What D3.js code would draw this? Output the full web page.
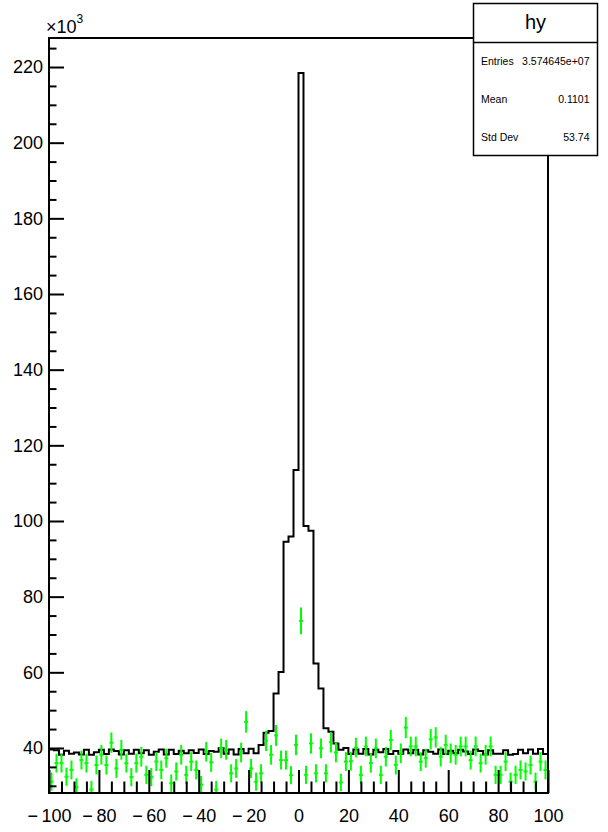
<!DOCTYPE html>
<html><head><meta charset="utf-8">
<script src="https://cdn.jsdelivr.net/npm/d3@7"></script>
<style>
body{margin:0;background:#fff;}
text{font-family:"Liberation Sans",Arial,Helvetica,sans-serif;fill:#000;}
</style>
</head><body>
<svg id="c" width="608" height="832"></svg>
<script>
// ---- data (values in units of 10^3) ----
const xMin = -100, xMax = 100, nBins = 100;
const blackCounts = [
 39.6, 39.4, 38.2, 39.3, 38.5, 38.8, 38.3, 39.5, 38.2, 38.9,
 39.5, 38.4, 39.6, 39.2, 38.3, 39.4, 38.5, 39.5, 38.6, 39.4,
 38.2, 39.0, 39.6, 38.3, 39.5, 38.4, 39.3, 38.6, 39.4, 38.7,
 39.6, 38.4, 39.2, 39.0, 39.9, 38.5, 39.6, 38.3, 39.7, 38.6,
 39.8, 38.6, 40.8, 44.0, 44.5, 54.4, 60.1, 94.5, 95.9, 113.5,
 218.4, 98.7, 97.4, 62.3, 55.7, 45.2, 44.3, 41.2, 39.5, 40.0,
 38.4, 39.6, 38.5, 39.7, 38.3, 39.5, 38.9, 39.7, 38.4, 39.2,
 38.5, 39.6, 38.6, 39.5, 38.3, 39.4, 39.0, 38.5, 39.6, 38.4,
 39.3, 38.6, 39.5, 39.1, 38.4, 39.6, 39.2, 38.3, 39.4, 38.5,
 38.5, 39.4, 38.2, 38.4, 39.5, 38.6, 39.6, 38.5, 39.7, 38.4
];
const greenCounts = [
 31.1, 36.0, 36.0, 32.4, 34.2, 29.7, 36.8, 36.0, 29.0, 35.5,
 38.2, 35.5, 41.4, 34.6, 39.5, 36.0, 32.3, 36.0, 37.7, 32.9,
 32.3, 36.4, 34.2, 37.3, 30.7, 33.8, 38.2, 32.9, 36.4, 34.2,
 30.3, 39.0, 36.2, 29.0, 39.9, 39.5, 33.3, 34.6, 38.8, 46.9,
 34.6, 31.1, 33.3, 41.9, 38.2, 43.3, 36.8, 36.8, 32.8, 40.8,
 73.6, 32.9, 41.2, 33.3, 39.9, 33.3, 41.5, 38.8, 30.9, 36.4,
 36.5, 40.1, 32.9, 40.4, 36.0, 39.9, 32.9, 37.7, 42.1, 35.5,
 38.6, 45.4, 40.4, 40.4, 36.4, 37.3, 42.3, 42.8, 37.7, 40.8,
 38.6, 38.2, 40.4, 40.4, 36.8, 40.4, 36.0, 38.2, 40.4, 32.9,
 32.9, 36.4, 31.1, 32.9, 34.2, 33.8, 35.5, 31.1, 36.4, 34.2
];
const greenErr = [
 2.4, 2.5, 2.5, 2.4, 2.5, 2.3, 2.5, 2.5, 2.3, 2.5,
 2.6, 2.5, 2.7, 2.5, 2.6, 2.5, 2.4, 2.5, 2.6, 2.4,
 2.4, 2.5, 2.5, 2.5, 2.3, 2.4, 2.6, 2.4, 2.5, 2.5,
 2.3, 2.6, 2.5, 2.3, 2.6, 2.6, 2.4, 2.5, 2.6, 2.85,
 2.5, 2.4, 2.4, 2.7, 2.6, 2.75, 2.5, 2.5, 2.4, 2.7,
 3.55, 2.4, 2.7, 2.4, 2.6, 2.4, 2.7, 2.6, 2.3, 2.5,
 2.5, 2.6, 2.4, 2.6, 2.5, 2.6, 2.4, 2.6, 2.7, 2.5,
 2.6, 2.8, 2.6, 2.6, 2.5, 2.5, 2.7, 2.7, 2.6, 2.7,
 2.6, 2.6, 2.6, 2.6, 2.5, 2.6, 2.5, 2.6, 2.6, 2.4,
 2.4, 2.5, 2.4, 2.4, 2.5, 2.4, 2.5, 2.4, 2.5, 2.5
];
const xMajorTicks = [-100, -80, -60, -40, -20, 0, 20, 40, 60, 80, 100];
const yMajorTicks = [40, 60, 80, 100, 120, 140, 160, 180, 200, 220];
const statsTitle = "hy";
const statsRows = [["Entries", "3.574645e+07"], ["Mean", "0.1101"], ["Std Dev", "53.74"]];
const yMin = 28.1, yMax = 227.67;

// ---- drawing ----
const svg = d3.select("#c");
const L = 49, R = 548, T = 38, B = 793;
const x = d3.scaleLinear().domain([xMin, xMax]).range([L, R]);
const y = d3.scaleLinear().domain([yMin, yMax]).range([B, T]);
const bw = (xMax - xMin) / nBins;
const bins = d3.range(nBins).map(i => ({lo: xMin + i*bw, hi: xMin + (i+1)*bw, b: blackCounts[i], g: greenCounts[i], e: greenErr[i]}));

svg.append("defs").append("clipPath").attr("id","fr")
  .append("rect").attr("x", L).attr("y", T).attr("width", R-L).attr("height", B-T);

// histogram step line
let d = "";
bins.forEach((bn, i) => {
  const yy = y(bn.b);
  d += (i === 0 ? "M" : "L") + `${x(bn.lo)},${yy}` + `L${x(bn.hi)},${yy}`;
});
svg.append("path").attr("d", d).attr("fill","none").attr("stroke","#000")
  .attr("stroke-width",2).attr("clip-path","url(#fr)");

// green error crosses
const gg = svg.append("g").attr("stroke","#00ff00").attr("stroke-width",2).attr("clip-path","url(#fr)");
bins.forEach(bn => {
  const cx = x((bn.lo+bn.hi)/2);
  gg.append("line").attr("x1",cx).attr("x2",cx).attr("y1",y(bn.g - bn.e)).attr("y2",y(bn.g + bn.e));
  gg.append("line").attr("x1",x(bn.lo)+0.5).attr("x2",x(bn.hi)-0.5).attr("y1",y(bn.g)).attr("y2",y(bn.g));
});

// axes
const minus = v => v < 0 ? "\u2212\u2009" + Math.abs(v) : String(v);
svg.append("g").attr("transform",`translate(0,${B})`)
  .call(d3.axisBottom(x).tickValues(xMajorTicks).tickSize(-23).tickPadding(16).tickFormat(minus));
const xMinor = d3.range(xMin, xMax + 0.001, 5).filter(v => v % 20 !== 0);
svg.append("g").attr("transform",`translate(0,${B})`)
  .call(d3.axisBottom(x).tickValues(xMinor).tickSize(-11.5).tickFormat(""));
svg.append("g").attr("transform",`translate(${L},0)`)
  .call(d3.axisLeft(y).tickValues(yMajorTicks).tickSize(-15).tickPadding(6).tickFormat(d3.format("d")));
const yMinor = d3.range(30, 227, 5).filter(v => v % 20 !== 0);
svg.append("g").attr("transform",`translate(${L},0)`)
  .call(d3.axisLeft(y).tickValues(yMinor).tickSize(-7.5).tickFormat(""));
svg.selectAll(".domain").remove();
svg.selectAll(".tick line").attr("stroke","#000").attr("stroke-width",2);
svg.selectAll(".tick text").attr("font-size",18).attr("font-family",'"Liberation Sans",Arial,sans-serif');

// frame
svg.append("rect").attr("x",L).attr("y",T).attr("width",R-L).attr("height",B-T)
  .attr("fill","none").attr("stroke","#000").attr("stroke-width",2);

// x10^3
const ex = svg.append("text").attr("x",46).attr("y",33).attr("font-size",18);
ex.append("tspan").text("\u00d710");
ex.append("tspan").attr("font-size",12).attr("dy",-10).text("3");

// stats box
const sb = svg.append("g");
sb.append("rect").attr("x",473.5).attr("y",3.5).attr("width",124).attr("height",152)
  .attr("fill","#fff").attr("stroke","#000").attr("stroke-width",1.5);
sb.append("line").attr("x1",473.5).attr("x2",597.5).attr("y1",42.5).attr("y2",42.5)
  .attr("stroke","#000").attr("stroke-width",1.5);
sb.append("text").attr("x",535.5).attr("y",29).attr("text-anchor","middle").attr("font-size",20).text(statsTitle);
statsRows.forEach((r, i) => {
  const yy = 65 + i*38;
  sb.append("text").attr("x",481).attr("y",yy).attr("font-size",10.5).text(r[0]);
  sb.append("text").attr("x",589.5).attr("y",yy).attr("text-anchor","end").attr("font-size",10.5).text(r[1]);
});
</script>
</body></html>
